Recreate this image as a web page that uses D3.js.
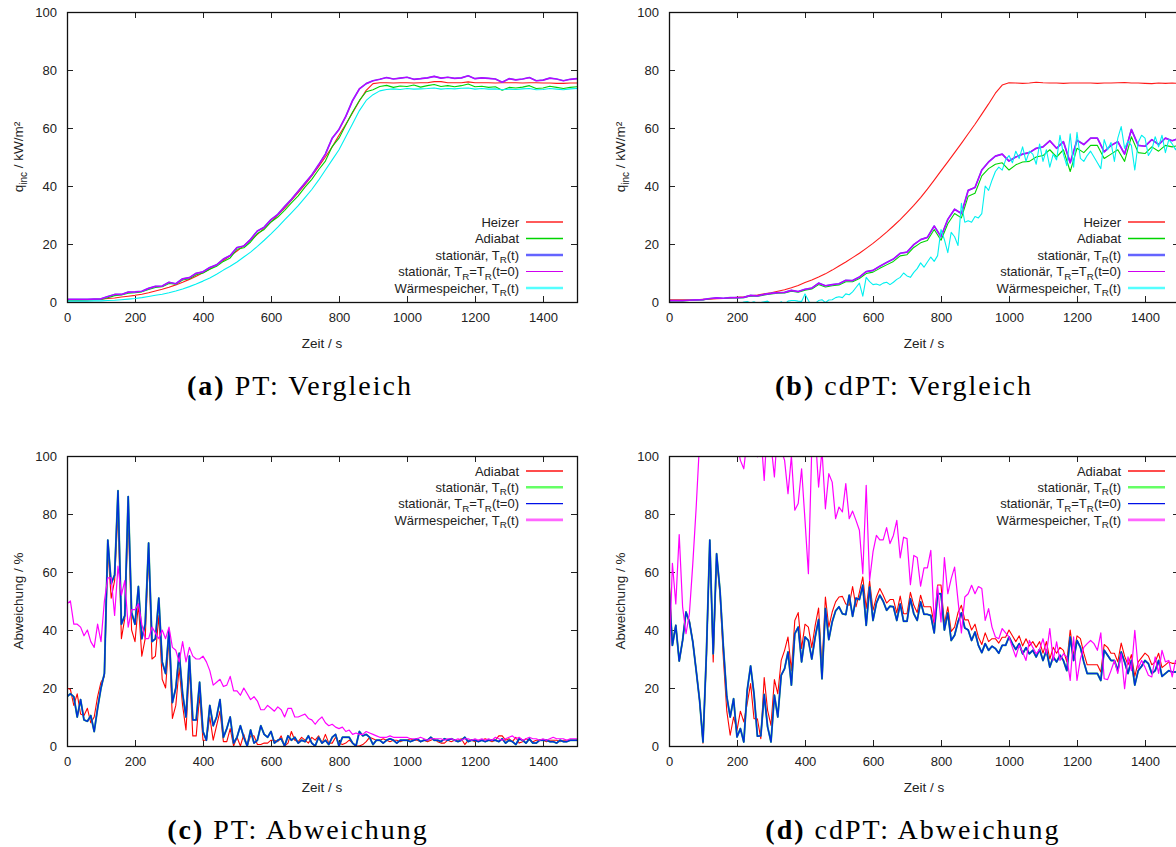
<!DOCTYPE html>
<html><head><meta charset="utf-8">
<script src="https://cdn.jsdelivr.net/npm/d3@7"></script>
<style>
body{margin:0;background:#fff}
svg text{font-family:"Liberation Sans",Arial,sans-serif;fill:#222}
</style>
</head><body>
<svg id="chart" width="1176" height="847"></svg>
<script>
// ---------- time grids (s) ----------
const T20 = d3.range(0, 1501, 20);
const T10 = d3.range(0, 1501, 10);
const xTicks = [0,200,400,600,800,1000,1200,1400];
const yTicks = [0,20,40,60,80,100];

// ---------- (a) PT: Vergleich, q_inc kW/m², every 20 s ----------
const aHeizer = [0.8,0.8,0.8,0.8,0.9,1.0,1.2,1.4,1.7,2.0, 2.3,2.7,3.2,3.8,4.4,5.1,5.9,6.8,7.8,8.9,
 10.1,11.4,12.8,14.3,15.9,17.6,19.4,21.3,23.3,25.4, 27.6,30.0,32.4,35.0,37.7,40.5,43.5,46.7,50.0,53.5,
 57.5,61.3,65.3,69.3,73.0,75.3,75.6,75.6,75.5,75.6, 75.6,75.5,75.6,75.6,76.0,76.0,75.6,75.6,75.6,75.9,
 75.6,75.6,75.6,75.5,75.6,75.6,75.6,75.5,75.6,75.6, 75.5,75.5,75.4,75.4,75.5,75.5];
const aAdiabat = [0.6,0.6,0.6,0.7,0.8,0.9,1.5,2.2,2.4,3.0, 3.2,3.5,4.3,5.0,5.3,6.4,6.1,7.6,8.0,9.4,
 10.0,11.3,12.3,14.0,15.2,18.2,18.7,20.7,23.6,25.0, 27.6,29.3,31.6,34.2,36.6,39.6,42.3,45.6,48.6,53.6,
 56.5,61.0,65.5,69.5,72.5,73.2,74.3,74.7,74.0,74.5, 74.3,74.8,74.1,74.6,75.0,74.3,74.6,74.2,74.6,75.2,
 74.2,74.4,74.0,74.2,73.0,74.0,73.8,74.1,74.6,73.6, 73.8,74.4,74.0,73.6,74.0,74.2];
const aStat = [0.9,0.9,0.9,0.9,1.0,1.1,1.9,2.6,2.6,3.4, 3.5,3.7,4.7,5.4,5.5,6.8,6.3,8.0,8.4,9.9,
 10.4,11.9,12.8,14.8,16.0,18.8,19.3,21.6,24.5,25.8, 28.4,30.2,32.9,35.4,38.2,41.0,43.8,47.3,51.0,56.5,
 59.5,64.0,69.5,73.5,75.3,76.3,76.8,77.4,76.9,77.2, 77.5,76.8,77.0,77.3,77.8,77.2,77.5,77.1,77.3,78.0,
 77.0,77.3,77.1,76.9,75.8,77.0,76.6,76.9,77.4,76.3, 76.5,77.2,76.9,76.3,76.8,77.0];
const aStat0 = aStat; // both stationary curves coincide in the picture
const aWaerme = [0.3,0.3,0.3,0.3,0.4,0.4,0.5,0.6,0.8,1.0, 1.2,1.5,1.9,2.3,2.7,3.2,3.8,4.5,5.3,6.2,
 7.2,8.3,9.6,11.0,12.3,13.8,15.5,17.2,19.2,21.3, 23.5,25.8,28.3,30.7,33.2,36.0,38.8,42.0,45.5,49.0,
 52.5,57.0,61.5,66.0,69.5,71.5,72.8,73.3,73.5,73.3, 73.6,73.4,73.5,73.6,73.8,73.4,73.6,73.5,73.7,73.8,
 73.4,73.6,73.4,73.5,73.2,73.4,73.3,73.5,73.6,73.2, 73.3,73.6,73.4,73.2,73.5,73.6];

// ---------- (b) cdPT: Vergleich ----------
const bHeizer = [0.8,0.8,0.8,0.8,0.8,0.9,1.0,1.1,1.2,1.4, 1.6,1.8,2.1,2.4,2.8,3.2,3.7,4.2,4.9,5.7,
 6.7,7.6,8.6,9.7,11.0,12.4,13.8,15.3,16.8,18.5, 20.2,22.1,24.1,26.2,28.4,30.8,33.3,36.0,38.9,42.0,
 45.2,48.3,51.5,54.7,58.0,61.3,64.8,68.3,72.0,74.8, 75.6,75.5,75.4,75.5,75.8,75.6,75.5,75.5,75.4,75.5,
 75.5,75.5,75.5,75.4,75.5,75.5,75.6,75.7,75.5,75.5, 75.4,75.3,75.5,75.4,75.5,75.4];
const bAdiabat = [0.4,0.4,0.4,0.5,0.6,0.7,1.1,1.3,1.2,1.4, 1.4,1.5,2.1,2.0,2.4,2.8,3.0,3.1,3.7,3.4,
 4.1,4.5,6.0,5.2,5.6,5.9,7.0,7.0,8.1,9.8, 10.3,11.6,12.8,14.0,15.9,16.3,18.8,20.4,21.2,25.0,
 21.3,27.0,30.5,29.0,36.5,37.5,43.5,46.0,47.5,48.0, 45.5,47.3,48.3,48.5,50.0,50.5,52.5,50.0,52.5,45.0,
 53.0,51.5,54.0,54.0,49.5,51.0,52.5,48.5,57.0,51.5, 51.2,53.5,52.0,54.0,53.5,54.0];
const bStat = [0.5,0.5,0.5,0.6,0.7,0.8,1.2,1.4,1.3,1.5, 1.5,1.6,2.3,2.1,2.6,3.0,3.2,3.3,4.0,3.6,
 4.4,4.8,6.5,5.6,6.0,6.3,7.5,7.4,8.6,10.5, 10.9,12.3,13.6,14.8,16.8,17.2,19.8,21.5,22.3,26.2,
 22.5,28.5,32.0,30.5,38.5,39.5,45.5,48.3,50.3,51.0, 48.6,50.0,51.0,51.5,53.0,53.5,55.6,53.0,55.3,48.0,
 55.8,54.3,56.5,56.5,51.8,54.0,55.3,51.0,59.5,54.0, 53.7,56.0,54.3,56.5,55.6,56.5];
const bStat0 = bStat;
const bWaerme = [-2,-2,-2,-2,-2,-2,-2,-2,-2,-2, -2,-2,-2,-2,-2,-1.5,-1.5,-1,-1,-1,
 -0.5,-0.5,0,0.2,-0.3,0.1,-0.5,-0.2,0.1,0.3, -0.5,-0.3,-1,0.1,-0.8,0.3,0.5,0.5,0.3,0.2,
 2.8,0.5,-1.5,-0.5,0.5,0.8,-0.2,0.7,0.8,1.5, 1.8,1.5,2.8,2.5,3.5,5.0,6.5,2.0,8.5,7.0,
 6.0,6.2,5.8,6.5,6.8,6.0,6.8,7.8,8.5,10.0, 9.0,8.5,10.2,11.5,13.5,12.0,13.8,15.5,14.0,16.0,
 25.0,21.5,17.0,24.0,22.5,19.5,34.0,27.5,28.0,27.5, 29.5,29.0,30.5,40.0,38.5,42.0,45.0,46.5,45.5,49.0,
 50.5,48.0,52.0,49.5,53.5,48.5,52.0,51.0,47.5,54.5, 48.5,52.5,46.5,51.0,49.0,57.5,51.0,47.0,58.0,46.5,
 58.5,49.5,48.5,50.5,52.0,50.0,48.0,46.0,56.0,52.5, 55.0,48.5,56.5,60.5,53.0,55.5,54.0,45.5,55.0,57.5,
 56.5,50.5,52.5,57.0,53.5,57.5,51.5,56.0,54.5,52.5, 55.0];

// ---------- (c) PT: Abweichung %, every 10 s ----------
const cAdiabat = [20,19.5,14,18,11,10.5,13,8,10,17, 22,24,68,51,57,81,37,44,79,40,
 36,49,31,37,66,30,31,45,23,20, 37,9.5,14,27,14,5.5,27,3.5,3.5,17.5,
 2,2,10,2,7,12,1.5,1.5,6,0, 3,0,4,0,3.5,3.5,0.5,0.5,1,1,
 2,2,1.5,3.5,0,1,5,2,1.5,3, 2,1,3,2,3.5,1,4,1,1,3,
 1,0.5,1,2,1,0,0,0.5,1.5,3, 2.5,2,2,2.5,2,1.5,2,2,1.5,2,
 2,2.5,2,2,1.5,2,1.5,2,2.5,1.5, 1,1,2,1.5,2,2,2.5,0.5,2,2,
 1.5,2,2,2.5,2,1.5,2,3.5,3.5,2, 2.5,1.5,3,1,1.5,2.5,2,1.5,2,2,
 2,1.5,2,2,2,1.5,2,2,2,2, 2];
const cStat0 = [17,18,17,10,16,9,8.5,10.5,5,13, 20,25,71,56,59,88,42,45,86,46,
 42,55,37,42,70,36,37,51,29,25, 40,15,20,32,18,10,31,9,9,22,
 5,2,14,7,10,16,3,6,10,1, 3,7,3,0,5.5,1,2,7,4,3,
 5,1,2,2.5,0,3.5,2,3,1,2, 1.5,3.5,1,0,3,1,2,0.5,3,4,
 0,3,3,3,1,0,5,3.5,4,3, 0.5,2,2,1,2,2.5,2,1,2,2,
 2,1.5,2,2.5,1.5,2,2,3,2,2, 1.5,2.5,2,2.5,2,1.5,2,3,1.5,2,
 2,1.5,2,1.5,2,2,2,1.5,2.5,1, 2,1.5,0.5,2.5,2,1,2.5,1,1,2,
 2,2,1.5,1.5,1,2,1.5,1.5,2,2, 2];
const cStat = cStat0; // green curve hidden under the blue one
const cWaerme = [49,50,42,42,41,38,40,36,34,42, 36,50,58,58,45,62,52,57,41,47,
 47,49,42,37,37,41,39,37,40,37, 41,34,33,29,36,29,34,31,30,30,
 31,29,26,21,22,23,20.5,21,24,19, 19,17.5,20,18,16,17,15.5,12.5,12.5,14,
 13,12,13.5,12.5,10,13,13,10,10,10.5, 11,9.5,9,7.5,9,10,8,7,7.5,6.5,
 6,6.5,5,5.5,4,4.5,4,4,5,4.5, 4,3.5,3,3,3,3.5,3,3,3,3,
 3,2.5,2.5,2.5,3,2.5,2,2.5,2.5,2.5, 2.5,2,2.5,2.5,2,2.5,2,2.5,2.5,2,
 2.5,2,2.5,2,2.5,2,3,2.5,2,2.5, 3,3.5,2.5,3,2,2.5,3,2.5,2.5,2,
 2.5,2,2.5,3,2.5,2.5,2.5,2,2.5,2.5, 2.5];

// ---------- (d) cdPT: Abweichung %, every 10 s ----------
const dAdiabat = [58,35,41.6,29.3,36.4,46,43,36,26,15.7, 1,30,70,29,65,52,30,12,3.7,10,
 5.4,12,8.3,14.6,21.5,9.4,9.4,2.5,23.6,12.3, 7.1,22.9,18,29.5,33,37.6,26,43.3,46,33.6,
 42,41,33.9,41.6,47.6,27,51.4,41,46.2,49.7, 51.4,51.6,49,48.5,55,48,53,58.3,47.4,57,
 46.8,51.4,54.3,52,49.3,50.5,50.5,45.9,51.7,45.6, 45.6,53,48.5,46,52,48,48,48,42,55.5,
 55.5,42,48,39.5,41,46,48.5,43.5,43.5,40, 42,37.5,35,39,36,37,37,35.5,37.5,37.5,
 40,38,36,38,34.5,37,34.5,36,34,36, 32,36,30,34,32,34,33,29,40,31,
 38,37,32,28,28,28,28,25.5,35,34, 32,32,29,35.5,31,28,31.5,24,29,30.5,
 32,31,28,29,32,27,28,29,28.5,28.5, 28];
const dStat0 = [55,34.7,41.6,29.3,36.4,46.2,42.8,35.9,26,15.7, 1.4,31.8,71,31.8,66.3,53.7,34,17,10,16.3,
 3.1,6,1.4,19.2,27.6,18,3.4,3.5,17.8,6.6, 1.4,17.5,10,24.4,26.7,32.4,21,38.7,41,29,
 37.6,36.4,30,37.6,43.6,23.2,47.4,36.7,42.8,46.6, 48,45.6,45.3,52,44.7,51,50.5,55.4,41.6,54.8,
 43.3,49.3,52,49.9,46.8,48.2,48,43.3,49,43, 43,50.8,45.6,43.3,49.7,45.4,45.4,45,39,52.5,
 52.5,40,45.9,36.4,38.2,42.8,45.9,40.7,40,36.4, 39.3,34.7,32.2,35.3,33,34.4,33.6,32,34.7,34.7,
 37.6,35.3,33.3,35.3,31.8,33.9,31.8,33,30.7,33.3, 29.5,33,27.2,30.7,29,31.3,29.5,26,37.6,29.5,
 36.4,34,29,25,25,25,25,22.6,33,31.3, 29.5,29.5,26,32.4,29,25,29.5,21,26,27.5,
 29.5,28.4,25,26,29.5,24,25,26,25.5,25.5, 26];
const dStat = dStat0;
const dWaerme = [27,63,49,72.9,48,38.7,45.6,62.9,82.4,105, 115,120,125,120,130,125,120,115,110,108,
 104,98.5,95.6,106,110,104,99.7,108,91.6,112, 104,92.8,110,102,98.5,87,100,81.3,83.6,95.6,
 77.8,59.4,103,108,89.3,102,81.8,93.9,91,78.4, 82.4,80.7,90.5,78.4,81,77.8,74.4,59.4,89.9,57.1,
 66.9,72.6,71.1,71.1,75.3,69.8,72.6,77.8,64.9,72, 71.5,55.6,65.7,65,55.1,61.4,61.4,67.5,42.8,55.2,
 42.8,65,52.5,57.7,61.7,50.2,39,51.4,52.5,55.4, 52.5,55,54.3,43.3,47.4,41,37.6,37,40.5,39,
 37.6,34,30.7,34.7,32.4,29.5,36.4,34,31.8,33.3, 37,31.8,40.5,29.5,35.9,29.5,31.8,30.7,22.6,37.6,
 22.6,30,34,35.3,36.4,35.3,33,39,23.2,22.9, 26,29.5,25,31.8,19.8,30.7,26,39.9,26.7,29.5,
 27.2,24.4,23.8,30.7,25,33,29,29.5,23.8,29.5, 28];

// ---------- labels ----------
const L_HEIZER = [["Heizer"]];
const L_ADIABAT = [["Adiabat"]];
const L_STAT = [["stationär, T"],["R",1],["(t)"]];
const L_STAT0 = [["stationär, T"],["R",1],["=T"],["R",1],["(t=0)"]];
const L_WAERME = [["Wärmespeicher, T"],["R",1],["(t)"]];
const Y_Q = [["q"],["inc",1],[" / kW/m²"]];
const Y_ABW = [["Abweichung / %"]];
const X_T = [["Zeit / s"]];

const topStyles = {
  heizer:{c:"#ff1a1a",w:1.1,lc:"#ff5a5a",lw:2},
  adiabat:{c:"#00d400",w:1.1,lc:"#00d400",lw:1.5},
  stat:{c:"#6048ff",w:1.7,lc:"#6464ff",lw:2.6},
  stat0:{c:"#c400ff",w:1.2,lc:"#d000f0",lw:1.2},
  waerme:{c:"#00f0f0",w:1.1,lc:"#55ffff",lw:2.6}
};
const botStyles = {
  adiabat:{c:"#ff0000",w:1.1,lc:"#ff1010",lw:1.3},
  stat:{c:"#30c060",w:1.9,lc:"#66ff66",lw:2.6},
  stat0:{c:"#0030d8",w:1.5,lc:"#0010e8",lw:1.3},
  waerme:{c:"#ff00ff",w:1.2,lc:"#ff66ff",lw:2.8}
};

const panels = [
 {id:"a", x0:67, x1:577, yTop:12, yBot:302, ylab:Y_Q, legTop:false, cap:["(a)"," PT: Vergleich"], capX:300, capY:395,
  series:[
   {t:T20,v:aHeizer,s:topStyles.heizer,l:L_HEIZER},
   {t:T20,v:aAdiabat,s:topStyles.adiabat,l:L_ADIABAT},
   {t:T20,v:aStat,s:topStyles.stat,l:L_STAT},
   {t:T20,v:aStat0,s:topStyles.stat0,l:L_STAT0},
   {t:T20,v:aWaerme,s:topStyles.waerme,l:L_WAERME}]},
 {id:"b", x0:669, x1:1179, yTop:12, yBot:302, ylab:Y_Q, legTop:false, cap:["(b)"," cdPT: Vergleich"], capX:904, capY:395,
  series:[
   {t:T20,v:bHeizer,s:topStyles.heizer,l:L_HEIZER},
   {t:T20,v:bAdiabat,s:topStyles.adiabat,l:L_ADIABAT},
   {t:T20,v:bStat,s:topStyles.stat,l:L_STAT},
   {t:T20,v:bStat0,s:topStyles.stat0,l:L_STAT0},
   {t:T10,v:bWaerme,s:topStyles.waerme,l:L_WAERME}]},
 {id:"c", x0:67, x1:577, yTop:456, yBot:746, ylab:Y_ABW, legTop:true, cap:["(c)"," PT: Abweichung"], capX:298, capY:839,
  series:[
   {t:T10,v:cAdiabat,s:botStyles.adiabat,l:L_ADIABAT},
   {t:T10,v:cStat,s:botStyles.stat,l:L_STAT},
   {t:T10,v:cStat0,s:botStyles.stat0,l:L_STAT0},
   {t:T10,v:cWaerme,s:botStyles.waerme,l:L_WAERME}]},
 {id:"d", x0:669, x1:1179, yTop:456, yBot:746, ylab:Y_ABW, legTop:true, cap:["(d)"," cdPT: Abweichung"], capX:913, capY:839,
  series:[
   {t:T10,v:dAdiabat,s:botStyles.adiabat,l:L_ADIABAT},
   {t:T10,v:dStat,s:botStyles.stat,l:L_STAT},
   {t:T10,v:dStat0,s:botStyles.stat0,l:L_STAT0},
   {t:T10,v:dWaerme,s:botStyles.waerme,l:L_WAERME}]}
];

const svg = d3.select("#chart");
const FS = 13;

function rich(textSel, parts, subSize){
  let shift = 0;
  parts.forEach(([s, sub]) => {
    const ts = textSel.append("tspan").text(s);
    const target = sub ? 3.5 : 0;
    if (target !== shift){ ts.attr("dy", target - shift); shift = target; }
    if (sub) ts.attr("font-size", subSize);
  });
}

panels.forEach(p => {
  const x = d3.scaleLinear().domain([0,1500]).range([p.x0,p.x1]);
  const y = d3.scaleLinear().domain([0,100]).range([p.yBot,p.yTop]);
  const g = svg.append("g");

  g.append("clipPath").attr("id","clip"+p.id).append("rect")
   .attr("x",p.x0).attr("y",p.yTop).attr("width",p.x1-p.x0).attr("height",p.yBot-p.yTop);

  const ax = g.append("g").attr("transform",`translate(0,${p.yBot})`)
    .call(d3.axisBottom(x).tickValues(xTicks).tickFormat(d3.format("d")).tickSizeInner(-6).tickSizeOuter(0).tickPadding(11));
  const axT = g.append("g").attr("transform",`translate(0,${p.yTop})`)
    .call(d3.axisTop(x).tickValues(xTicks).tickFormat("").tickSizeInner(-6).tickSizeOuter(0));
  const ay = g.append("g").attr("transform",`translate(${p.x0},0)`)
    .call(d3.axisLeft(y).tickValues(yTicks).tickFormat(d3.format("d")).tickSizeInner(-6).tickSizeOuter(0).tickPadding(10));
  const ayR = g.append("g").attr("transform",`translate(${p.x1},0)`)
    .call(d3.axisRight(y).tickValues(yTicks).tickFormat("").tickSizeInner(-6).tickSizeOuter(0));
  [ax,axT,ay,ayR].forEach(a => {
    a.select(".domain").remove();
    a.selectAll(".tick line").attr("stroke","#222").attr("stroke-width",1);
    a.selectAll(".tick text").attr("font-size",FS).attr("fill","#222")
      .attr("font-family","'Liberation Sans',Arial,sans-serif");
  });

  const line = d3.line().x(d => x(d[0])).y(d => y(d[1]));
  const lg = g.append("g").attr("clip-path",`url(#clip${p.id})`);
  p.series.forEach(s => {
    const data = s.t.map((tt,i) => [tt, s.v[i]]);
    lg.append("path").datum(data).attr("d",line)
      .attr("fill","none").attr("stroke",s.s.c).attr("stroke-width",s.s.w)
      .attr("stroke-linejoin","round");
  });

  g.append("rect").attr("x",p.x0+0.5).attr("y",p.yTop+0.5)
   .attr("width",p.x1-p.x0).attr("height",p.yBot-p.yTop)
   .attr("fill","none").attr("stroke","#111").attr("stroke-width",1.3);

  const textRight = p.x1 - 58, lx1 = p.x1 - 51, lx2 = p.x1 - 14;
  p.series.forEach((s,i) => {
    const ry = p.legTop ? p.yTop + 15 + i*16.3 : p.yBot - 80 + i*16.5;
    const t = g.append("text").attr("x",textRight).attr("y",ry+4.6)
      .attr("text-anchor","end").attr("font-size",FS);
    rich(t, s.l, 9.8);
    g.append("line").attr("x1",lx1).attr("x2",lx2).attr("y1",ry).attr("y2",ry)
      .attr("stroke",s.s.lc).attr("stroke-width",s.s.lw);
  });

  const xt = g.append("text").attr("x",(p.x0+p.x1)/2).attr("y",p.yBot+46)
    .attr("text-anchor","middle").attr("font-size",13.5);
  rich(xt, X_T, 10);
  const yt = g.append("text")
    .attr("transform",`translate(${p.x0-44},${(p.yTop+p.yBot)/2}) rotate(-90)`)
    .attr("text-anchor","middle").attr("font-size",13.5);
  rich(yt, p.ylab, 10);

  const cap = svg.append("text").attr("x",p.capX).attr("y",p.capY).attr("text-anchor","middle")
    .attr("font-size",28).style("font-family","'Liberation Serif','Times New Roman',serif")
    .style("letter-spacing","2px").style("fill","#000");
  cap.append("tspan").attr("font-weight","bold").text(p.cap[0]);
  cap.append("tspan").text(p.cap[1]);
});
</script>
</body></html>
